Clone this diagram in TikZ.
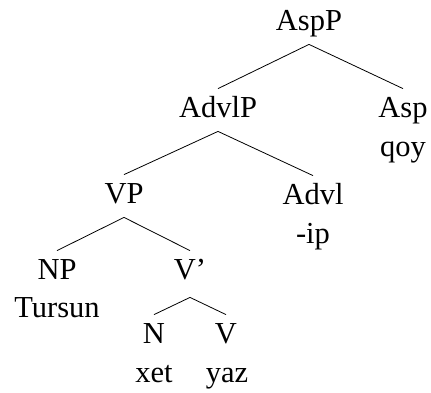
\documentclass[tikz,border=0pt]{standalone}
\usepackage{fontspec}
\setmainfont{Liberation Serif}
\usepackage{tikz}
\tikzset{
	cat/.style={anchor=base, inner sep=0pt, text height=28pt, text depth=14pt},
	word/.style={anchor=base, inner sep=0pt},
	every node/.append style={font=\fontsize{30.5}{36}\selectfont}
}

\begin{document}
\begin{tikzpicture}[x=1pt, y=-1pt, line width=0.8pt]
	\useasboundingbox (0, 0) rectangle (431, 392);
	
	\node[cat] (AspP) at (309, 30) {AspP};
	
	\node[cat] (AdvlP) at (218, 117) {AdvlP};
	\node[cat] (Asp) at (403, 117) {Asp};
	\node[word] (qoy) at (403, 156) {qoy};
	
	\node[cat] (VP) at (124, 203) {VP};
	\node[cat] (Advl) at (313, 204) {Advl};
	\node[word] (ip) at (313, 243) {-ip};
	
	\node[cat] (NP) at (57, 279) {NP};
	\node[word] (Tursun) at (57, 317) {Tursun};
	\node[cat, text depth=18pt] (Vbar) at (190, 279) {V'};
	
	\node[cat] (N) at (154, 343) {N};
	\node[word] (xet) at (154, 382) {xet};
	\node[cat] (V) at (226, 343) {V};
	\node[word] (yaz) at (227, 382) {yaz};
	
	\foreach \p/\c in {AspP/AdvlP, AspP/Asp, AdvlP/VP, AdvlP/Advl, VP/NP, VP/Vbar, Vbar/N, Vbar/V}
		\draw (\p.south) -- (\c.north);
\end{tikzpicture}
\end{document}
